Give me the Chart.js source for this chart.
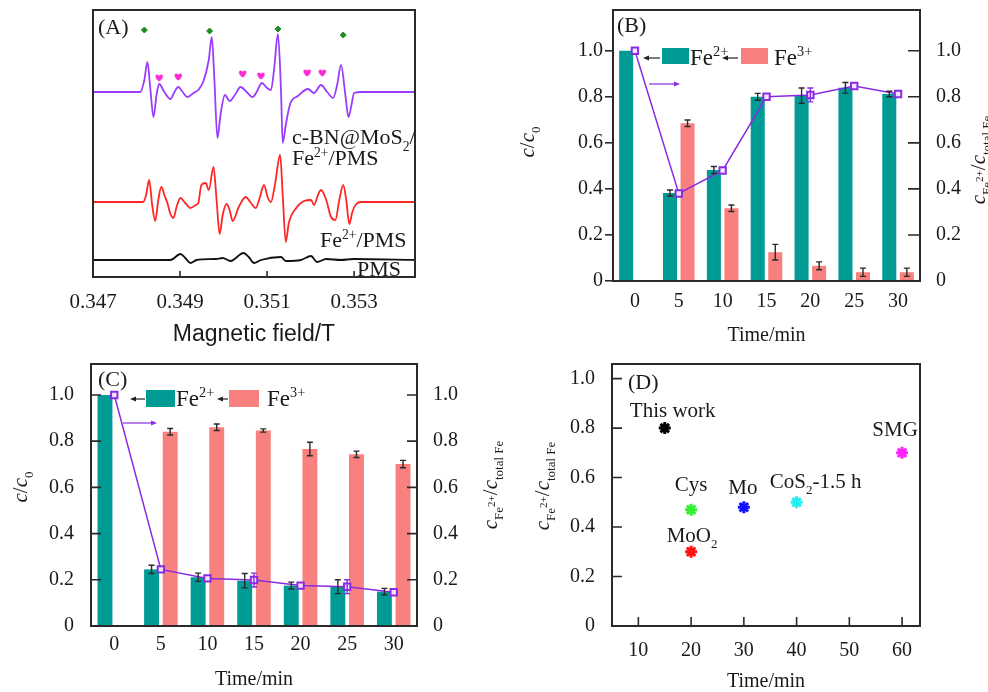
<!DOCTYPE html>
<html><head><meta charset="utf-8">
<script src="https://cdn.jsdelivr.net/npm/chart.js@4.4.1/dist/chart.umd.min.js"></script>
<style>
html,body{margin:0;padding:0;background:#fff;}
#wrap{position:relative;width:988px;height:692px;overflow:hidden;background:#fff}
canvas{position:absolute;left:0;top:0;}
</style></head><body>
<div id="wrap">
<canvas id="cA" width="988" height="692"></canvas>
<canvas id="cB" width="988" height="692"></canvas>
<canvas id="cC" width="988" height="692"></canvas>
<canvas id="cD" width="988" height="692"></canvas>
</div>
<script>
// ---------------- DATA ----------------
// Panel A: EPR spectra (field in T, intensity in a.u. relative to each trace's baseline)
const A_FIELD_TICKS = [0.347, 0.349, 0.351, 0.353];
const A_PURPLE_FIELD = [0.34700,0.34809,0.34818,0.34825,0.34832,0.34839,0.34846,0.34852,0.34864,0.34878,0.34887,0.34896,0.34906,0.34917,0.34931,0.34942,0.34954,0.34966,0.34973,0.34979,0.34986,0.34993,0.35003,0.35014,0.35026,0.35039,0.35053,0.35067,0.35076,0.35088,0.35100,0.35109,0.35116,0.35125,0.35132,0.35136,0.35143,0.35153,0.35171,0.35194,0.35208,0.35224,0.35238,0.35252,0.35261,0.35270,0.35280,0.35287,0.35294,0.35300,0.35317,0.35444];
const A_PURPLE_INT = [0,0,12,30,2,-25,-3,8,0,-7,0,5,0,-5,-1,2,11,32,55,12,-46,-23,-3,-9,-3,5,0,-5,0,9,4,2,22,58,2,-51,-33,-12,-4,3,-1,7,0,-6,7,27,-3,-25,-13,-1,0,0];
const A_RED_FIELD = [0.34700,0.34815,0.34822,0.34829,0.34836,0.34843,0.34850,0.34857,0.34864,0.34871,0.34878,0.34885,0.34892,0.34901,0.34912,0.34924,0.34936,0.34942,0.34949,0.34959,0.34966,0.34977,0.34984,0.34991,0.34998,0.35007,0.35014,0.35021,0.35035,0.35051,0.35063,0.35074,0.35083,0.35093,0.35102,0.35109,0.35118,0.35130,0.35136,0.35143,0.35150,0.35167,0.35185,0.35201,0.35208,0.35217,0.35224,0.35236,0.35247,0.35257,0.35266,0.35275,0.35282,0.35289,0.35296,0.35305,0.35317,0.35444];
const A_RED_INT = [0,0,7,22,-3,-19,2,15,7,-1,-12,-16,-5,4,-1,-6,-3,-1,17,19,12,35,2,-32,-13,-2,-8,-19,-5,5,-1,-6,4,17,4,0,17,47,7,-40,-21,-6,1,2,-3,7,12,2,-15,-18,2,17,2,-22,-10,-2,0,0];
const A_BLACK_FIELD = [0.34700,0.34878,0.34901,0.34912,0.34924,0.34938,0.34982,0.34998,0.35016,0.35046,0.35058,0.35070,0.35086,0.35132,0.35143,0.35178,0.35201,0.35215,0.35236,0.35270,0.35298,0.35444];
const A_BLACK_INT = [0,0,6,2,-3,0,1,2,-1,7,3,-3,0,3,-1,0,4,-2,1,0,1,0];
const A_DIAMOND_FIELD = [0.34818,0.34968,0.35125,0.35275];
const A_DIAMOND_INT = [62,61,63,57];
const A_HEART_FIELD = [0.34852,0.34896,0.35044,0.35086,0.35192,0.35227];
const A_HEART_INT = [14,15,18,16,19,19];

// Panels B, C
const TIME_CATS = ['0','5','10','15','20','25','30'];
const Y_TICKS = [0,0.2,0.4,0.6,0.8,1.0];
const B_FE2 = [1.0,0.382,0.482,0.800,0.805,0.839,0.812];
const B_FE2_ERR = [0,0.013,0.015,0.015,0.033,0.023,0.012];
const B_FE3 = [0,0.685,0.316,0.125,0.066,0.038,0.038];
const B_FE3_ERR = [0,0.014,0.014,0.034,0.017,0.018,0.018];
const B_RATIO = [1.0,0.380,0.480,0.800,0.808,0.847,0.812];
const B_RATIO_ERR = [0,0,0,0,0.03,0,0];
const C_FE2 = [1.0,0.245,0.211,0.196,0.175,0.170,0.149];
const C_FE2_ERR = [0,0.018,0.018,0.031,0.015,0.03,0.014];
const C_FE3 = [0,0.841,0.860,0.846,0.766,0.743,0.701];
const C_FE3_ERR = [0,0.014,0.014,0.007,0.029,0.014,0.016];
const C_RATIO = [1.0,0.245,0.206,0.199,0.175,0.170,0.146];
const C_RATIO_ERR = [0,0,0,0.03,0,0.03,0];

// Panel D
const D_NAMES = ['This work','Cys','MoO_{2}','Mo','CoS_{2}-1.5 h','SMG'];
const D_TIME = [15,20,20,30,40,60];
const D_RATIO = [0.80,0.47,0.30,0.48,0.50,0.70];
const D_X_TICKS = [10,20,30,40,50,60];

// ---------------- STYLE ----------------
const W = 988, H = 692, PW = 494, PH = 346;
const SERIF = "'Liberation Serif','Times New Roman',serif";
const SANS = "'Liberation Sans',Arial,sans-serif";
const TXT = '#1a1a1a';
const TEAL = '#009b95';
const PINK = '#f8807e';
const PURPLE = '#8a2be2';
const A_COLORS = {purple:'#9a3cff', red:'#ff2626', black:'#111111', diamond:'#1e8c1e', heart:'#ff2ad4'};
const A_OFFSETS = {purple:185, red:75, black:17};
const D_COLORS = ['#000000','#33ee33','#ff1010','#1010ff','#22f0f0','#ff22ff'];
const D_LABEL_OFF = [[8,-18],[0,-26],[1,-17],[-1,-20],[19,-21],[-7,-24]];

Chart.defaults.font.family = SERIF;
Chart.defaults.font.size = 20;
Chart.defaults.color = TXT;

// ---------------- HELPERS ----------------
function richSegs(str){
  const segs=[]; const re=/\*([^*]+)\*|_\{([^}]*)\}|\^\{([^}]*)\}|([^*_^]+)/g; let m;
  while((m=re.exec(str))){
    if(m[1]!==undefined) segs.push({t:m[1],k:'n',it:true});
    else if(m[2]!==undefined) segs.push({t:m[2],k:'sub'});
    else if(m[3]!==undefined) segs.push({t:m[3],k:'sup'});
    else segs.push({t:m[4],k:'n'});
  }
  return segs;
}
function drawRich(ctx,str,x,y,o){
  o=o||{}; const size=o.size||20, fam=o.family||SERIF, sc=o.subScale||0.62;
  const segs=richSegs(str);
  const info=segs.map((s,i)=>{
    const prev=i>0?segs[i-1].k:'n';
    let fs=s.k==='n'?size:size*sc, dy=0;
    if(s.k==='sub') dy=size*0.28;
    if(s.k==='sup'){ if(prev==='sub'){fs=size*sc*0.85; dy=-size*0.12;} else dy=-size*0.38; }
    return {font:(s.it?'italic ':'')+fs.toFixed(1)+'px '+fam, dy:dy};
  });
  ctx.save();
  let w=0; const ws=segs.map((s,i)=>{ctx.font=info[i].font; const m=ctx.measureText(s.t).width; w+=m; return m;});
  ctx.translate(x,y); if(o.rotate) ctx.rotate(o.rotate);
  let cx=o.align==='left'?0:(o.align==='right'?-w:-w/2);
  ctx.fillStyle=o.color||TXT; ctx.textBaseline='alphabetic'; ctx.textAlign='left';
  const base=size*0.34;
  segs.forEach((s,i)=>{ctx.font=info[i].font; ctx.fillText(s.t,cx,base+info[i].dy); cx+=ws[i];});
  ctx.restore();
}
function arrow(ctx,x1,y,x2,color){
  const dir=x2>x1?1:-1;
  ctx.save(); ctx.strokeStyle=color; ctx.fillStyle=color; ctx.lineWidth=1.2;
  ctx.beginPath(); ctx.moveTo(x1,y); ctx.lineTo(x2-dir*4,y); ctx.stroke();
  ctx.beginPath(); ctx.moveTo(x2,y); ctx.lineTo(x2-dir*6,y-2.6); ctx.lineTo(x2-dir*6,y+2.6); ctx.closePath(); ctx.fill();
  ctx.restore();
}
function frame(chart){
  const a=chart.chartArea, ctx=chart.ctx;
  ctx.save(); ctx.strokeStyle='#2a2a2a'; ctx.lineWidth=2;
  ctx.strokeRect(a.left,a.top,a.right-a.left,a.bottom-a.top); ctx.restore();
}
function inTicks(chart,scaleId,side,len){
  const s=chart.scales[scaleId], a=chart.chartArea, ctx=chart.ctx;
  ctx.save(); ctx.strokeStyle='#2a2a2a'; ctx.lineWidth=1.6; ctx.beginPath();
  s.ticks.forEach(t=>{
    const p=s.getPixelForValue(t.value);
    if(side==='bottom'){ctx.moveTo(p,a.bottom);ctx.lineTo(p,a.bottom-len);}
    if(side==='left'){ctx.moveTo(a.left,p);ctx.lineTo(a.left+len,p);}
    if(side==='right'){ctx.moveTo(a.right,p);ctx.lineTo(a.right-len,p);}
  });
  ctx.stroke(); ctx.restore();
}
function local(ctx,ox,oy,fn){ctx.save();ctx.translate(ox,oy);fn(ctx);ctx.restore();}
// panel-local padding -> full-canvas padding
function pad(ox,oy,l,r,t,b){return {left:ox+l,right:(W-ox-PW)+r,top:oy+t,bottom:(H-oy-PH)+b};}
const fitW=w=>s=>{s.width=w;s.paddingTop=0;s.paddingBottom=0;};
const fitH=h=>s=>{s.height=h;s.paddingLeft=0;s.paddingRight=0;};
const errorBarPlugin={id:'errbars',afterDatasetsDraw(chart){
  const ctx=chart.ctx;
  chart.data.datasets.forEach((ds,i)=>{
    if(!ds.errorBars) return;
    const meta=chart.getDatasetMeta(i), ys=chart.scales[meta.yAxisID];
    ctx.save(); ctx.strokeStyle=ds.errColor||'#2a2a2a'; ctx.lineWidth=1.4;
    meta.data.forEach((el,j)=>{
      const e=ds.errorBars[j]; if(!e) return;
      const v=ds.data[j], y1=ys.getPixelForValue(v+e), y2=ys.getPixelForValue(v-e), x=el.x;
      ctx.beginPath(); ctx.moveTo(x,y1); ctx.lineTo(x,y2);
      ctx.moveTo(x-3,y1); ctx.lineTo(x+3,y1); ctx.moveTo(x-3,y2); ctx.lineTo(x+3,y2); ctx.stroke();
    });
    ctx.restore();
  });
}};
function heartCanvas(color){
  const c=document.createElement('canvas'); c.width=9; c.height=8; const g=c.getContext('2d');
  g.fillStyle=color; g.beginPath(); g.moveTo(4.5,7.6);
  g.bezierCurveTo(0,4.6,0,0.4,2.4,0.4); g.bezierCurveTo(3.6,0.4,4.5,1.4,4.5,2.2);
  g.bezierCurveTo(4.5,1.4,5.4,0.4,6.6,0.4); g.bezierCurveTo(9,0.4,9,4.6,4.5,7.6); g.fill();
  return c;
}
const trace=(xs,ys,off)=>xs.map((x,i)=>({x:x,y:ys[i]+off}));
const yTickCb=v=>v===0?'0':v.toFixed(1);
const setTicks=arr=>s=>{s.ticks=arr.map(v=>({value:v}));};
const base={responsive:false,animation:false,devicePixelRatio:1,
  plugins:{legend:{display:false},tooltip:{enabled:false}}};

// ---------------- PANEL A ----------------
new Chart(document.getElementById('cA'),{
  type:'scatter',
  data:{datasets:[
    {label:'c-BN@MoS2/Fe2+/PMS',data:trace(A_PURPLE_FIELD,A_PURPLE_INT,A_OFFSETS.purple),showLine:true,borderColor:A_COLORS.purple,borderWidth:1.8,pointRadius:0,cubicInterpolationMode:'monotone'},
    {label:'Fe2+/PMS',data:trace(A_RED_FIELD,A_RED_INT,A_OFFSETS.red),showLine:true,borderColor:A_COLORS.red,borderWidth:1.8,pointRadius:0,cubicInterpolationMode:'monotone'},
    {label:'PMS',data:trace(A_BLACK_FIELD,A_BLACK_INT,A_OFFSETS.black),showLine:true,borderColor:A_COLORS.black,borderWidth:1.8,pointRadius:0,cubicInterpolationMode:'monotone'},
    {label:'DMPO-OH',data:trace(A_DIAMOND_FIELD,A_DIAMOND_INT,A_OFFSETS.purple),pointStyle:'rectRot',pointRadius:3,backgroundColor:A_COLORS.diamond,borderColor:A_COLORS.diamond,borderWidth:1},
    {label:'DMPO-SO4',data:trace(A_HEART_FIELD,A_HEART_INT,A_OFFSETS.purple),pointStyle:heartCanvas(A_COLORS.heart),pointRadius:4}
  ]},
  options:Object.assign({},base,{
    layout:{padding:pad(0,0,93,79,10,0)},
    scales:{
      x:{type:'linear',min:0.347,max:0.3544,grid:{display:false},border:{display:false},
        afterBuildTicks:setTicks(A_FIELD_TICKS),
        ticks:{padding:5,maxRotation:0,autoSkip:false,font:{size:21},callback:v=>v.toFixed(3)},
        title:{display:true,text:'Magnetic field/T',font:{family:SANS,size:23,lineHeight:1},padding:0},
        afterFit:fitH(69)},
      y:{display:false,min:0,max:267}
    }
  }),
  plugins:[{id:'decoA',afterDraw(chart){
    frame(chart); inTicks(chart,'x','bottom',6);
    local(chart.ctx,0,0,ctx=>{
      drawRich(ctx,'(A)',98,27,{size:22,align:'left'});
      drawRich(ctx,'c-BN@MoS_{2}/',292,137,{size:22,align:'left'});
      drawRich(ctx,'Fe^{2+}/PMS',292,158,{size:22,align:'left'});
      drawRich(ctx,'Fe^{2+}/PMS',320,240,{size:22,align:'left'});
      drawRich(ctx,'PMS',357,269,{size:22,align:'left'});
    });
  }}]
});

// ---------------- PANELS B & C ----------------
function ironChart(id,fe2,fe2e,fe3,fe3e,ratio,ratioe,geo){
  return new Chart(document.getElementById(id),{
    type:'bar',
    data:{labels:TIME_CATS,datasets:[
      {type:'line',label:'ratio',data:ratio,yAxisID:'y1',borderColor:PURPLE,borderWidth:1.5,pointStyle:'rect',pointRadius:4.5,pointBorderWidth:2,pointBackgroundColor:'#f1e6ff',pointBorderColor:PURPLE,order:0,errorBars:ratioe,errColor:PURPLE},
      {label:'Fe^{2+}',data:fe2,backgroundColor:TEAL,yAxisID:'y',order:1,errorBars:fe2e,categoryPercentage:0.8,barPercentage:0.8},
      {label:'Fe^{3+}',data:fe3,backgroundColor:PINK,yAxisID:'y',order:1,errorBars:fe3e,categoryPercentage:0.8,barPercentage:0.8}
    ]},
    options:Object.assign({},base,{
      layout:{padding:pad(geo.ox,geo.oy,0,0,geo.top,0)},
      scales:{
        x:{grid:{display:false},border:{display:false},ticks:{padding:geo.xPad,maxRotation:0},
          title:{display:true,text:'Time/min',font:{size:20,lineHeight:geo.titleLH},padding:0},
          afterFit:fitH(geo.xH)},
        y:{position:'left',min:0,max:geo.yMax,afterBuildTicks:setTicks(Y_TICKS),border:{display:false},
          grid:geo.leftOut?{display:true,drawOnChartArea:false,tickLength:8,color:'#2a2a2a',lineWidth:1.6}:{display:false},
          ticks:{padding:geo.leftPad,callback:yTickCb},afterFit:fitW(geo.leftW)},
        y1:{position:'right',min:0,max:geo.yMax,afterBuildTicks:setTicks(Y_TICKS),border:{display:false},grid:{display:false},
          ticks:{padding:8,callback:yTickCb},afterFit:fitW(geo.rightW)}
      }
    }),
    plugins:[errorBarPlugin,{id:'deco'+id,afterDraw(chart){
      const L=geo.leg, ds=chart.data.datasets;
      frame(chart);
      if(!geo.leftOut) inTicks(chart,'y','left',10);
      inTicks(chart,'y1','right',geo.rightTick);
      local(chart.ctx,geo.ox,geo.oy,ctx=>{
        drawRich(ctx,geo.panel,geo.panelX,geo.panelY,{size:22,align:'left'});
        arrow(ctx,L.a1[0],L.a1[2],L.a1[1],'#222');
        ctx.fillStyle=ds[1].backgroundColor; ctx.fillRect(L.r1[0],L.r1[1],L.r1[2],L.r1[3]);
        drawRich(ctx,ds[1].label,L.t1[0],L.t1[1],{size:23,align:'left'});
        arrow(ctx,L.a2[0],L.a2[2],L.a2[1],'#222');
        ctx.fillStyle=ds[2].backgroundColor; ctx.fillRect(L.r2[0],L.r2[1],L.r2[2],L.r2[3]);
        drawRich(ctx,ds[2].label,L.t2[0],L.t2[1],{size:23,align:'left'});
        arrow(ctx,L.a3[0],L.a3[2],L.a3[1],PURPLE);
        drawRich(ctx,'*c*/*c*_{0}',geo.lt[0],geo.lt[1],{size:21,rotate:-Math.PI/2});
        drawRich(ctx,'*c*_{Fe}^{2+}/*c*_{total Fe}',geo.rt[0],geo.rt[1],{size:21,rotate:-Math.PI/2});
      });
    }}]
  });
}
ironChart('cB',B_FE2,B_FE2_ERR,B_FE3,B_FE3_ERR,B_RATIO,B_RATIO_ERR,{
  ox:PW,oy:0,top:10,xPad:1,titleLH:1,xH:65,yMax:1.177,leftOut:true,leftPad:2,leftW:119,rightW:68,rightTick:12,
  panel:'(B)',panelX:123,panelY:25,lt:[33,142],rt:[484,160],
  leg:{a1:[166,149,58],r1:[168,48,27,16],t1:[196,57],a2:[244,228,58],r2:[247,48,27,16],t2:[280,57],a3:[155,186,84]}
});
ironChart('cC',C_FE2,C_FE2_ERR,C_FE3,C_FE3_ERR,C_RATIO,C_RATIO_ERR,{
  ox:0,oy:PH,top:18,xPad:-1,titleLH:1.2,xH:66,yMax:1.134,leftOut:false,leftPad:9,leftW:91,rightW:77,rightTick:10,
  panel:'(C)',panelX:98,panelY:33,lt:[20,141],rt:[490,139],
  leg:{a1:[145,130,53],r1:[146,44,29,17],t1:[176,52],a2:[228,217,53],r2:[229,44,30,17],t2:[267,52],a3:[123,157,77]}
});

// ---------------- PANEL D ----------------
new Chart(document.getElementById('cD'),{
  type:'scatter',
  data:{datasets:[{label:'comparison',data:D_TIME.map((t,i)=>({x:t,y:D_RATIO[i]})),
    pointStyle:'star',pointRadius:6,pointBorderWidth:3,pointBorderColor:D_COLORS,pointBackgroundColor:D_COLORS}]},
  options:Object.assign({},base,{
    layout:{padding:pad(PW,PH,0,68,18,0)},
    scales:{
      x:{type:'linear',min:5,max:63.4,afterBuildTicks:setTicks(D_X_TICKS),grid:{display:false},border:{display:false},
        ticks:{padding:5,maxRotation:0},
        title:{display:true,text:'Time/min',font:{size:20,lineHeight:1},padding:0},
        afterFit:fitH(66)},
      y:{min:0,max:1.059,afterBuildTicks:setTicks(Y_TICKS),grid:{display:false},border:{display:false},
        ticks:{padding:9,callback:yTickCb},afterFit:fitW(118)}
    }
  }),
  plugins:[{id:'decoD',afterDraw(chart){
    const ctx=chart.ctx;
    frame(chart); inTicks(chart,'x','bottom',9); inTicks(chart,'y','left',10);
    local(ctx,PW,PH,c=>{
      drawRich(c,'(D)',134,36,{size:22,align:'left'});
      drawRich(c,'*c*_{Fe}^{2+}/*c*_{total Fe}',48,140,{size:21,rotate:-Math.PI/2});
    });
    const meta=chart.getDatasetMeta(0);
    meta.data.forEach((el,i)=>{
      drawRich(ctx,D_NAMES[i],el.x+D_LABEL_OFF[i][0],el.y+D_LABEL_OFF[i][1],{size:21});
    });
  }}]
});
</script>
</body></html>
